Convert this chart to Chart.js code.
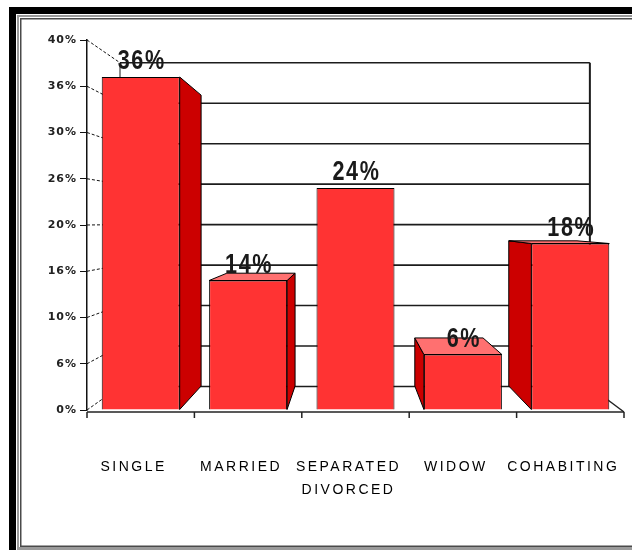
<!DOCTYPE html>
<html>
<head>
<meta charset="utf-8">
<title>Marital status</title>
<script src="https://cdn.jsdelivr.net/npm/chart.js"></script>
<style>
  html, body { margin: 0; padding: 0; background: #fff; }
  #chart { display: block; }
</style>
</head>
<body>
<canvas id="chart" width="632" height="550"></canvas>
<script>
const categories = ['SINGLE', 'MARRIED', ['SEPARATED', 'DIVORCED'], 'WIDOW', 'COHABITING'];
const shares = [36, 14, 24, 6, 18];
const yTickLabels = ['0%', '6%', '10%', '16%', '20%', '26%', '30%', '36%', '40%'];

// perspective: back of the box is pulled towards a vanishing point
const VP = { x: 351, y: 222 };
const DEPTH = 0.875;
const toBack = (px, py) => [VP.x + DEPTH * (px - VP.x), VP.y + DEPTH * (py - VP.y)];

function line(ctx, a, b) {
    ctx.beginPath();
    ctx.moveTo(a[0], a[1]);
    ctx.lineTo(b[0], b[1]);
    ctx.stroke();
}

function face(ctx, pts, fill) {
    ctx.beginPath();
    ctx.moveTo(pts[0][0], pts[0][1]);
    for (let i = 1; i < pts.length; i++) ctx.lineTo(pts[i][0], pts[i][1]);
    ctx.closePath();
    ctx.fillStyle = fill;
    ctx.fill();
    ctx.lineWidth = 1;
    ctx.strokeStyle = '#000';
    ctx.stroke();
}

const framePlugin = {
    id: 'frame',
    beforeDraw(chart) {
        const { ctx, width: W, height: H } = chart;
        ctx.save();
        ctx.fillStyle = '#000';
        ctx.fillRect(9, 7, W - 9, 7);
        ctx.fillRect(9, 7, 7, H - 7);
        ctx.fillStyle = '#9a9a9a';
        ctx.fillRect(17, 15, W - 17, 2);
        ctx.fillRect(17, 15, 2, H - 15);
        ctx.fillRect(17, H - 3, W - 17, 3);
        ctx.fillStyle = '#4a4a4a';
        ctx.fillRect(20, 18, W - 20, 1.5);
        ctx.fillRect(20, 18, 1.5, H - 22);
        ctx.fillRect(20, H - 4.5, W - 20, 1.5);
        ctx.restore();
        ctx.letterSpacing = '1px';
    }
};

const boxPlugin = {
    id: 'box3d',
    beforeDatasetsDraw(chart) {
        const { ctx, chartArea: a, scales: { y } } = chart;
        const y0 = y.getPixelForValue(0);
        const yTop = y.getPixelForValue(y.max);
        const floorY = y0 + 2;
        ctx.save();

        // back wall
        ctx.strokeStyle = '#1c1c1c';
        ctx.lineWidth = 1.6;
        y.ticks.forEach(t => {
            const f = y.getPixelForValue(t.value);
            line(ctx, toBack(a.left, f), toBack(a.right, f));
        });
        ctx.lineWidth = 2;
        line(ctx, toBack(a.right, yTop), toBack(a.right, y0));
        ctx.lineWidth = 1;
        line(ctx, toBack(a.left, yTop), toBack(a.left, y0));

        // side wall diagonals from the axis ticks
        ctx.setLineDash([3, 2]);
        ctx.strokeStyle = '#111';
        y.ticks.forEach(t => {
            const f = y.getPixelForValue(t.value);
            line(ctx, [a.left, f], toBack(a.left, f));
        });
        ctx.setLineDash([]);

        // floor
        ctx.strokeStyle = '#222';
        ctx.lineWidth = 1.5;
        line(ctx, [a.left, floorY], [a.right, floorY]);
        line(ctx, [a.right, floorY], toBack(a.right, y0));
        const n = categories.length;
        for (let i = 0; i <= n; i++) {
            const xi = a.left + i * (a.right - a.left) / n;
            line(ctx, [xi, floorY], [xi, floorY + 6]);
        }

        // side and top faces of the bars
        chart.getDatasetMeta(0).data.forEach(bar => {
            const { x: cx, y: top, base, width } = bar.getProps(['x', 'y', 'base', 'width'], true);
            const left = cx - width / 2, right = cx + width / 2;
            if (right < VP.x) {
                face(ctx, [[right, top], toBack(right, top), toBack(right, base), [right, base]], '#cc0000');
            }
            if (left > VP.x) {
                face(ctx, [[left, top], toBack(left, top), toBack(left, base), [left, base]], '#cc0000');
            }
            if (top > VP.y) {
                face(ctx, [[left, top], [right, top], toBack(right, top), toBack(left, top)], '#ff7070');
            }
        });
        ctx.restore();
    },
    afterDatasetsDraw(chart) {
        const { ctx, scales: { x } } = chart;
        ctx.save();

        // value labels, squeezed horizontally for a condensed face
        ctx.fillStyle = '#1a1a1a';
        ctx.textAlign = 'center';
        ctx.textBaseline = 'alphabetic';
        ctx.letterSpacing = '2px';
        ctx.font = "bold 27px 'Liberation Sans', Arial, sans-serif";
        chart.getDatasetMeta(0).data.forEach((bar, i) => {
            ctx.save();
            ctx.translate(bar.x + 1, bar.y - 8);
            ctx.scale(0.8, 1);
            ctx.fillText(shares[i] + '%', 0, 0);
            ctx.restore();
        });

        // category labels
        ctx.fillStyle = '#000';
        ctx.letterSpacing = '2.5px';
        ctx.font = "14px 'Liberation Sans', Arial, sans-serif";
        ctx.textBaseline = 'middle';
        categories.forEach((label, i) => {
            const lines = Array.isArray(label) ? label : [label];
            const cx = x.getPixelForValue(i) - 7;
            lines.forEach((t, j) => ctx.fillText(t, cx, 467 + j * 23));
        });
        ctx.restore();
    }
};

new Chart(document.getElementById('chart'), {
    type: 'bar',
    data: {
        labels: categories,
        datasets: [{
            data: shares,
            backgroundColor: '#ff3333',
            borderColor: '#000',
            borderWidth: 1,
            barPercentage: 0.726,
            categoryPercentage: 1
        }]
    },
    options: {
        responsive: false,
        animation: false,
        layout: { padding: { left: 0, top: 40, right: 8, bottom: 140 } },
        plugins: { legend: { display: false }, tooltip: { enabled: false } },
        scales: {
            x: { display: false },
            y: {
                min: 0,
                max: 40,
                afterFit(scale) { scale.width = 87; },
                ticks: {
                    stepSize: 5,
                    padding: 3,
                    color: '#222',
                    font: { family: 'DejaVu Sans', size: 11, weight: 'bold' },
                    callback: (v, i) => yTickLabels[i]
                },
                grid: { drawOnChartArea: false, drawTicks: true, tickLength: 7, color: '#111' },
                border: { display: true, color: '#111', width: 1.5 }
            }
        }
    },
    plugins: [framePlugin, boxPlugin]
});
</script>
</body>
</html>
